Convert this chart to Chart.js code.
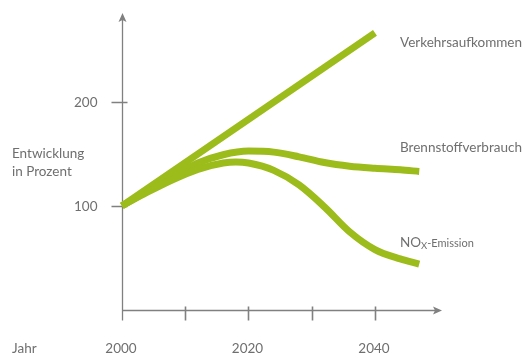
<!DOCTYPE html>
<html lang="de">
<head>
<meta charset="utf-8">
<title>Entwicklung in Prozent</title>
<script src="https://cdn.jsdelivr.net/npm/chart.js@4/dist/chart.umd.min.js"></script>
<style>
  html, body { margin: 0; padding: 0; background: #fff; }
  #chart { display: block; }
</style>
</head>
<body>
<canvas id="chart" width="525" height="355"></canvas>
<script>
const GREEN = '#9cbc1b';
const GREY_TEXT = '#6f6f6f';
const GREY_AXIS = '#808080';
const FONT = 'Lato, "Open Sans", sans-serif';
const FONT_SIZE = 13.5;

// Werte (Index 2000 = 100)
const verkehrJahre = [2000, 2040];
const verkehrWerte = [100, 266];

const brennstoffJahre = [2000, 2004, 2008, 2012, 2016, 2020, 2024, 2028, 2032, 2036, 2040, 2044, 2047];
const brennstoffWerte = [100, 114, 128, 141, 149, 152.5, 151.5, 147, 141.5, 138, 136, 134.5, 133];

const noxJahre = [2000, 2004, 2008, 2012, 2016, 2018, 2020, 2024, 2028, 2032, 2036, 2040, 2044, 2047];
const noxWerte = [100, 113, 125, 135, 141, 142, 141, 134, 120, 99, 75, 58, 49, 44];

// Achsenbeschriftung
const yTicks = [100, 200];
const xTicks = [2000, 2010, 2020, 2030, 2040];
const xTickLabels = ['2000', '', '2020', '', '2040'];

function toPoints(jahre, werte) {
  return jahre.map((j, i) => ({ x: j, y: werte[i] }));
}

function arrowHead(ctx, x, y, dir) {
  // dir: 'up' oder 'right'
  ctx.beginPath();
  if (dir === 'up') {
    ctx.moveTo(x, y);
    ctx.lineTo(x + 4, y + 9);
    ctx.lineTo(x, y + 7);
    ctx.lineTo(x - 4, y + 9);
  } else {
    ctx.moveTo(x, y);
    ctx.lineTo(x - 9, y - 4);
    ctx.lineTo(x - 7, y);
    ctx.lineTo(x - 9, y + 4);
  }
  ctx.closePath();
  ctx.fill();
}

// Achsen mit Pfeilen und Strichen, unter den Linien
const axesPlugin = {
  id: 'axesPlugin',
  beforeDatasetsDraw(chart) {
    const { ctx, chartArea, scales } = chart;
    const xs = scales.x, ys = scales.y;
    const x0 = Math.round(xs.getPixelForValue(2000)) + 0.5;
    const y0 = Math.round(ys.getPixelForValue(0)) + 0.5;
    ctx.save();
    ctx.strokeStyle = GREY_AXIS;
    ctx.fillStyle = GREY_AXIS;
    ctx.lineWidth = 1.3;

    ctx.beginPath();
    ctx.moveTo(x0, y0 + 10);
    ctx.lineTo(x0, chartArea.top + 4);
    ctx.moveTo(x0, y0);
    ctx.lineTo(chartArea.right - 4, y0);
    ctx.stroke();
    arrowHead(ctx, x0, chartArea.top, 'up');
    arrowHead(ctx, chartArea.right, y0, 'right');

    ctx.lineWidth = 1.6;
    ctx.beginPath();
    yTicks.forEach(v => {
      const y = Math.round(ys.getPixelForValue(v)) + 0.5;
      ctx.moveTo(x0 - 11, y);
      ctx.lineTo(x0 + 5, y);
    });
    xTicks.forEach(v => {
      if (v === 2000) return;
      const x = Math.round(xs.getPixelForValue(v)) + 0.5;
      ctx.moveTo(x, y0 - 4);
      ctx.lineTo(x, y0 + 10);
    });
    ctx.stroke();

    ctx.fillStyle = GREY_TEXT;
    ctx.font = FONT_SIZE + 'px ' + FONT;
    ctx.textAlign = 'right';
    ctx.textBaseline = 'middle';
    yTicks.forEach(v => {
      ctx.fillText(String(v), x0 - 25, ys.getPixelForValue(v) + 1);
    });
    ctx.textAlign = 'center';
    ctx.textBaseline = 'alphabetic';
    xTicks.forEach((v, i) => {
      if (xTickLabels[i]) ctx.fillText(xTickLabels[i], xs.getPixelForValue(v) - 1, 353);
    });
    ctx.textAlign = 'left';
    ctx.fillText('Jahr', 12, 353);
    ctx.fillText('Entwicklung', 12, 158);
    ctx.fillText('in Prozent', 12, 176);
    ctx.restore();
  },
  afterDatasetsDraw(chart) {
    const { ctx } = chart;
    ctx.save();
    ctx.fillStyle = GREY_TEXT;
    ctx.textAlign = 'left';
    ctx.textBaseline = 'alphabetic';
    ctx.font = FONT_SIZE + 'px ' + FONT;
    ctx.fillText('Verkehrsaufkommen', 400, 47);
    ctx.fillText('Brennstoffverbrauch', 400, 152);
    // NOx mit tiefgestelltem x
    ctx.fillText('NO', 400, 247);
    let x = 400 + ctx.measureText('NO').width;
    ctx.font = '9.5px ' + FONT;
    ctx.fillText('X', x, 249);
    x += ctx.measureText('X').width;
    ctx.font = '11px ' + FONT;
    ctx.fillText('-Emission', x, 247);
    ctx.restore();
  }
};

const lineStyle = {
  borderColor: GREEN,
  borderWidth: 7,
  borderCapStyle: 'butt',
  borderJoinStyle: 'round',
  pointRadius: 0,
  fill: false,
  cubicInterpolationMode: 'monotone',
  clip: false
};

new Chart(document.getElementById('chart'), {
  type: 'line',
  data: {
    datasets: [
      { label: 'NOx-Emission', data: toPoints(noxJahre, noxWerte), ...lineStyle },
      { label: 'Brennstoffverbrauch', data: toPoints(brennstoffJahre, brennstoffWerte), ...lineStyle },
      { label: 'Verkehrsaufkommen', data: toPoints(verkehrJahre, verkehrWerte), ...lineStyle }
    ]
  },
  options: {
    responsive: false,
    animation: false,
    layout: { padding: { left: 122, right: 83, top: 13, bottom: 45 } },
    plugins: { legend: { display: false }, tooltip: { enabled: false } },
    scales: {
      x: { type: 'linear', min: 2000, max: 2050.6, display: false },
      y: { type: 'linear', min: 0, max: 285, display: false }
    }
  },
  plugins: [axesPlugin]
});
</script>
</body>
</html>
